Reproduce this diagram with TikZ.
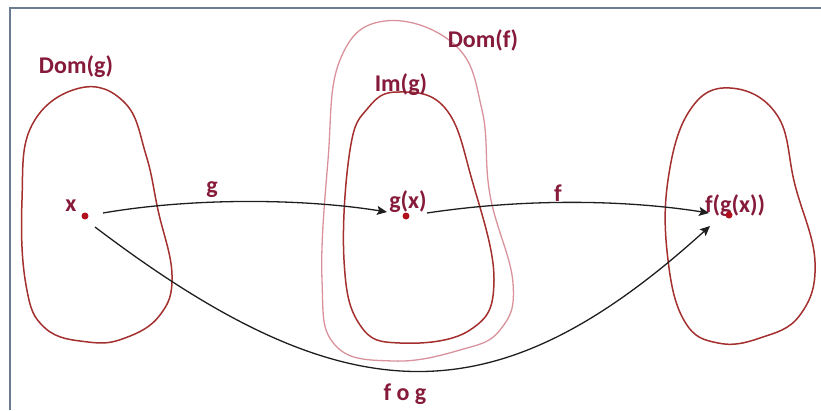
\documentclass[tikz,border=0pt]{standalone}
\usepackage{fontspec}
\setmainfont{Carlito}
\usetikzlibrary{arrows.meta}
\definecolor{blobred}{HTML}{A3302F}
\definecolor{pinkline}{HTML}{D9929C}
\definecolor{labelcol}{HTML}{861A3A}
\definecolor{dotcol}{HTML}{B3101E}
\definecolor{framecol}{HTML}{6B7C8E}
\definecolor{arrowcol}{HTML}{1E1E1E}
\tikzset{
  blob/.style={draw=blobred, line width=1.5pt},
  outerblob/.style={draw=pinkline, line width=1.3pt},
  lbl/.style={text=labelcol, font=\fontsize{24}{28}\selectfont\bfseries, inner sep=0pt, anchor=base},
  pt/.style={circle, fill=dotcol, inner sep=0pt, minimum size=7pt},
  maparrow/.style={draw=arrowcol, line width=1.3pt, -{Stealth[length=10pt,width=9pt,inset=2pt]}}
}
\begin{document}
\begin{tikzpicture}[x=1pt, y=-1pt]
\useasboundingbox (0,0) rectangle (821,410);
% frame
\draw[framecol, line width=1.6pt] (10,410) -- (10,8) -- (821,8);
% Dom(g)
\draw[blob] plot[smooth cycle, tension=0.7] coordinates {(80,88) (125,103) (146,155) (158,210) (172,275) (160,315) (125,338) (88,342) (45,328) (26,285) (22,200) (32,125)};
% Dom(f) outer
\draw[outerblob] plot[smooth cycle, tension=0.7] coordinates {(385,21) (455,45) (482,110) (490,195) (513,283) (500,330) (460,350) (393,361) (335,345) (322,280) (328,160) (340,60)};
% Im(g)
\draw[blob] plot[smooth cycle, tension=0.7] coordinates {(398,92) (445,108) (472,180) (494,280) (470,330) (400,343) (360,325) (344,260) (350,150) (368,108)};
% right blob
\draw[blob] plot[smooth cycle, tension=0.7] coordinates {(730,88) (777,115) (795,185) (815,262) (800,315) (760,338) (718,343) (685,322) (668,260) (668,180) (690,110)};
% labels
\node[lbl] (ldomg) at (76,73) {Dom(g)};
\node[lbl] (ldomf) at (483,47) {Dom(f)};
\node[lbl] (limg) at (401,91) {Im(g)};
\node[lbl] (lx) at (71,211) {x};
\node[lbl] (lgx) at (408,208) {g(x)};
\node[lbl] (lfgx) at (735,212) {f(g(x))};
\node[lbl] (lg) at (212,193) {g};
\node[lbl] (lf) at (558,201) {f};
\node[lbl] (lfog) at (405,400) {f o g};
% points
\node[pt] (px) at (85,216) {};
\node[pt] (pgx) at (406,216) {};
\node[pt] (pfgx) at (729,215) {};
% arrow ends
\coordinate (gs) at (103,213);
\coordinate (ge) at (387,212);
\coordinate (fs) at (427,213);
\coordinate (fe) at (709,213);
\coordinate (hs) at (95,227);
\coordinate (he) at (710,226);
\draw[maparrow] (gs) .. controls (190,198) and (300,198) .. (ge);
\draw[maparrow] (fs) .. controls (520,199) and (620,199) .. (fe);
\draw[maparrow] (hs) .. controls (348,419) and (497,419) .. (he);
\end{tikzpicture}
\end{document}
